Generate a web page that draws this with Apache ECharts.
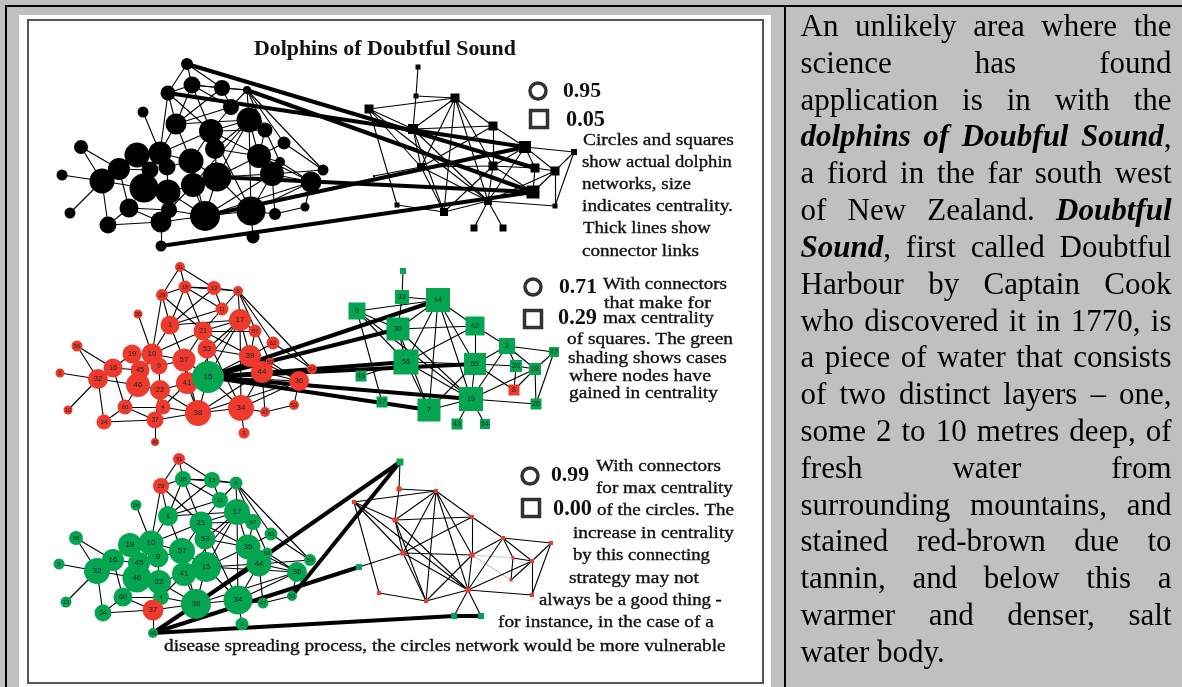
<!DOCTYPE html>
<html><head><meta charset="utf-8">
<style>html,body{margin:0;padding:0;background:#c0c0c0}#c{width:1182px;height:687px}</style>
<script src="https://cdn.jsdelivr.net/npm/echarts@6/dist/echarts.min.js"></script>
</head><body><div id="c"></div>
<script>
// ---- data ----
const circleLabels=['31','18','13','8','29','11','26','1','17','21','67','62','56','19','10','53','57','39','59','16','45','9','54','5','32','46','22','41','15','44','36','60','4','38','34','47','52','37','24','12','3','40'];
const circleX1=[187,192,222,247,168,231,143,176,249,211,265,284,81,137,160,215,191,259,280,119,150,167,323,62,102,144,168,193,217,272,311,129,169,205,251,275,305,161,108,70,253,161];
const circleY1=[64,85,88,90,93,107,112,124,120,131,130,143,147,155,153,149,161,156,162,169,170,167,170,175,181,188,192,185,177,174,182,208,210,216,211,214,207,222,225,213,237,246];
const circleD1=[12,17,16,8,15,16,11,21,25,24,15,13,14,25,23,20,25,24,10,22,17,17,11,11,25,29,25,24,29,24,21,19,16,30,29,12,9,21,17,11,13,11];
const circleX2=[180,185,214,238,162,222,138,170,240,203,255,273,77,132,152,207,184,250,270,113,140,159,312,60,98,138,160,187,208,262,299,125,163,198,241,265,294,155,104,68,244,155];
const circleY2=[267,287,288,291,295,309,314,325,320,331,331,343,346,354,354,349,360,356,362,368,370,366,369,373,379,385,390,383,377,372,381,407,407,413,408,412,405,420,422,410,433,442];
const circleD2=[10,13,14,10,12,13,9,19,22,19,13,13,11,19,21,19,23,22,8,19,19,17,10,9,20,24,20,22,32,22,20,15,15,26,26,10,10,17,15,9,11,8];
const circleX3=[179,183,212,236,161,220,136,168,237,201,253,271,76,130,151,205,182,248,267,113,139,158,310,59,97,137,159,184,206,259,297,123,161,196,238,263,292,153,103,66,242,153];
const circleY3=[459,479,480,483,486,500,505,516,512,523,522,534,538,545,543,539,551,547,553,560,563,557,560,564,571,578,582,574,567,564,572,597,597,604,600,603,596,610,613,602,624,633];
const circleD3=[12,16,16,13,16,16,11,20,26,23,16,13,14,24,25,21,26,25,11,22,22,21,12,11,26,29,24,24,30,25,20,19,16,30,29,11,10,21,17,11,13,10];
const squareLabels=['58','33','14','6','42','30','2','47','20','28','55','56','49','8','17','19','26','7','43','54'];
const squareX1=[418,416,455,369,493,413,525,574,535,555,493,421,374,533,397,488,555,444,474,503];
const squareY1=[67,96,98,109,126,129,147,152,168,171,166,167,176,192,205,201,206,212,228,228];
const squareS1=[5,5,9,9,9,10,12,6,9,9,9,8,2,13,5,8,5,8,7,7];
const squareX2=[403,402,438,357,475,398,507,554,516,535,475,406,361,514,382,471,536,429,457,485];
const squareY2=[271,297,300,311,326,329,346,352,366,369,364,362,376,390,402,399,404,410,424,424];
const squareS2=[6,14,24,17,19,23,16,10,12,12,22,25,11,11,11,24,11,23,11,10];
const squareX3=[400,399,436,354,472,395,503,551,513,532,472,403,359,511,379,468,532,426,454,481];
const squareY3=[462,489,491,502,517,520,538,543,558,561,555,553,567,580,593,590,595,601,616,616];
const squareS3=[7,5,4,4,4,5,4,4,3,4,5,5,6,3,4,5,4,4,6,6];
const circleEdges=[['31','18'],['31','29'],['31','13'],['18','29'],['18','13'],['18','8'],['18','1'],['18','11'],['18','21'],['13','8'],['13','11'],['13','1'],['29','21'],['29','10'],['29','1'],['8','11'],['8','17'],['8','62'],['8','54'],['11','1'],['11','21'],['26','10'],['1','10'],['1','17'],['1','57'],['17','21'],['17','67'],['17','39'],['17','15'],['17','53'],['17','41'],['17','34'],['21','67'],['21','53'],['21','10'],['21','57'],['21','34'],['21','36'],['67','39'],['62','39'],['62','54'],['56','16'],['56','32'],['19','16'],['19','10'],['19','45'],['5','32'],['12','32'],['32','16'],['32','46'],['32','24'],['16','60'],['16','45'],['10','46'],['10','9'],['10','57'],['9','57'],['9','22'],['45','46'],['46','22'],['46','60'],['57','15'],['57','41'],['57','38'],['53','15'],['53','39'],['41','22'],['41','15'],['41','4'],['41','38'],['15','38'],['15','34'],['15','44'],['15','36'],['15','39'],['22','4'],['22','37'],['22','38'],['60','4'],['60','37'],['60','24'],['24','37'],['37','40'],['37','38'],['4','38'],['38','34'],['38','44'],['38','36'],['34','44'],['34','36'],['34','47'],['34','3'],['39','44'],['44','36'],['44','54'],['44','47'],['36','52'],['47','52'],['59','36'],['59','39'],['8','59']];
const squareEdges=[['58','33'],['33','30'],['33','14'],['6','14'],['14','30'],['14','56'],['14','7'],['14','19'],['14','55'],['14','42'],['6','30'],['6','56'],['6','17'],['6','19'],['30','42'],['30','56'],['30','7'],['30','19'],['42','55'],['42','2'],['42','56'],['56','55'],['56','19'],['56','7'],['55','7'],['55','2'],['55','19'],['55','20'],['55','8'],['20','8'],['2','19'],['2','47'],['2','20'],['2','28'],['19','28'],['19','26'],['19','7'],['19','43'],['19','54'],['28','8'],['28','26'],['47','26'],['47','28'],['28','20'],['17','7'],['49','56']];
const greyEdges3=['55-20','55-8'];
const connectors1=[['c31','s20'],['c8','s8'],['c29','s2'],['c38','s2'],['c15','s8'],['c40','s8']];
const connectors2=[['c15','s14'],['c15','s30'],['c15','s56'],['c15','s55'],['c15','s19'],['c15','s7']];
const connectors3=[['c38','s58'],['c52','s58'],['c40','s49'],['c40','c38'],['c40','s43'],['s43','s54']];
const greenCircles2=['15'];
const redCircles3=['31','29','37'];
const redSquares2=['8'];
const greenSquares3=['58','49','43','54'];
const legendX=[538,539,533,533,530,531];
const legendY=[91,119,287,319,476,508];
const legendSize=[16,17,16,17,16,17];
const title='Dolphins of Doubtful Sound';
const legendValues=[['0.95',563,91,38],['0.05',566,120,39],['0.71',559,287,38],['0.29',558,318,39],['0.99',551,475,38],['0.00',553,509,39]];
const notes=[
['Circles and squares',583,141,151],['show actual dolphin',582,163,150],['networks, size',582,185,109],['indicates centrality.',582,207,151],['Thick lines show',583,229,128],['connector links',582,252,117],
['With connectors',603,285,124],['that make for',604,303,107],['max centrality',603,319,111],['of squares. The green',567,340,166],['shading shows cases',568,359,159],['where nodes have',569,376,142],['gained in centrality',569,394,149],
['With connectors',596,467,125],['for max centrality',596,489,137],['of the circles. The',597,511,137],['increase in centrality',573,534,161],['by this connecting',573,556,137],['strategy may not',569,578,130],['always be a good thing -',539,601,183],['for instance, in the case of a',498,623,216],['disease spreading process, the circles network would be more vulnerable',164,647,562]];
const bodyLines=['An unlikely area where the','science has found','application is in with the','*dolphins* *of* *Doubful* *Sound*,','a fiord in the far south west','of New Zealand. *Doubtful*','*Sound*, first called Doubtful','Harbour by Captain Cook','who discovered it in 1770, is','a piece of water that consists','of two distinct layers – one,','some 2 to 10 metres deep, of','fresh water from','surrounding mountains, and','stained red-brown due to','tannin, and below this a','warmer and denser, salt','water body.'];

// ---- drawing ----
const RED='#ee3a2c',GREEN='#04a550',BLACK='#000';
const SERIF='"Liberation Serif","Times New Roman",serif';
const ctx=document.createElement('canvas').getContext('2d');
function widthOf(t,font){ctx.font=font;return ctx.measureText(t).width;}
function fitSize(t,w,weight){return +(w/widthOf(t,weight+' 100px '+SERIF)*100).toFixed(2);}

function panel(cx,cy,cd,sx,sy,ss,cColor,sColor,conn,connW,labelled,thin,greys){
  const data=[];
  circleLabels.forEach((l,i)=>data.push({name:'c'+l,value:[cx[i],cy[i]],symbol:'circle',symbolSize:cd[i],itemStyle:{color:cColor(l)},
    label:{show:labelled,formatter:l,fontSize:Math.min(8,Math.max(6,cd[i]/2.6)),color:'#222',position:'inside'}}));
  squareLabels.forEach((l,i)=>data.push({name:'s'+l,value:[sx[i],sy[i]],symbol:'rect',symbolSize:ss[i],itemStyle:{color:sColor(l)},
    label:{show:labelled&&ss[i]>=10,formatter:l,fontSize:7,color:'#222',position:'inside'}}));
  const links=[];
  circleEdges.forEach(e=>links.push({source:'c'+e[0],target:'c'+e[1],lineStyle:{width:thin,color:BLACK}}));
  squareEdges.forEach(e=>links.push({source:'s'+e[0],target:'s'+e[1],lineStyle:{width:thin,color:greys.includes(e.join('-'))?'#c4c8d0':BLACK}}));
  conn.forEach(e=>links.push({source:e[0],target:e[1],lineStyle:{width:connW,color:BLACK}}));
  return {type:'graph',coordinateSystem:'cartesian2d',layout:'none',silent:true,animation:false,z:3,data,links,lineStyle:{opacity:1,curveness:0},emphasis:{disabled:true}};
}
const always=c=>()=>c;
const series=[
 panel(circleX1,circleY1,circleD1,squareX1,squareY1,squareS1,always(BLACK),always(BLACK),connectors1,4,false,1.1,[]),
 panel(circleX2,circleY2,circleD2,squareX2,squareY2,squareS2,l=>greenCircles2.includes(l)?GREEN:RED,l=>redSquares2.includes(l)?RED:GREEN,connectors2,4,true,1.1,[]),
 panel(circleX3,circleY3,circleD3,squareX3,squareY3,squareS3,l=>redCircles3.includes(l)?RED:GREEN,l=>greenSquares3.includes(l)?GREEN:RED,connectors3,4,true,1.1,greyEdges3),
 {type:'scatter',silent:true,animation:false,z:4,symbolSize:(v,p)=>legendSize[p.dataIndex],
  data:legendX.map((x,i)=>({value:[x,legendY[i]],symbol:i%2?'rect':'circle'})),
  itemStyle:{color:'#fff',borderColor:BLACK,borderWidth:3.5}}
];

const g=[];
function rect(x,y,w,h,fill,stroke,lw){g.push({type:'rect',z:0,silent:true,shape:{x,y,width:w,height:h},style:{fill:fill||'none',stroke:stroke||'none',lineWidth:lw||0}});}
rect(19,15,752,672,'#fff');
rect(28,20,735,663,'#fff','#555',2);
rect(6,6,1190,700,'none',BLACK,2);
rect(784,6,2,681,BLACK);
function text(t,x,y,size,weight){g.push({type:'text',z:10,silent:true,style:{text:t,x,y,fill:'#111',font:'normal '+weight+' '+size+'px '+SERIF,textAlign:'left',textVerticalAlign:'middle'}});}
text(title,254,49,fitSize(title,262,'bold'),'bold');
legendValues.forEach(v=>text(v[0],v[1],v[2],fitSize(v[0],v[3],'bold'),'bold'));
// notes: the letters in the reference are wider than the font's, so they are stretched sideways to their measured width
const NOTE_SQUEEZE=0.88;
notes.forEach(n=>g.push({type:'text',z:10,silent:true,x:n[1],y:n[2],scaleX:1/NOTE_SQUEEZE,
  style:{text:n[0],x:0,y:0,fill:'#111',stroke:'#111',lineWidth:0.35,font:'normal normal '+(fitSize(n[0],n[3],'normal')*NOTE_SQUEEZE)+'px '+SERIF,textAlign:'left',textVerticalAlign:'middle'}}));

// justified body text: each line stretched between the column edges
const BODY=31,LEFT=800.5,RIGHT=1171.5,TOP=28,PITCH=36.8;
function pieces(word){return word.split(/(\*[^*]+\*)/).filter(Boolean).map(p=>p[0]==='*'?{t:p.slice(1,-1),f:'italic bold '}:{t:p,f:'normal normal '});}
function wordWidth(word){return pieces(word).reduce((s,p)=>s+widthOf(p.t,p.f+BODY+'px '+SERIF),0);}
bodyLines.forEach((line,i)=>{
  const words=line.split(' ');
  const total=words.reduce((s,w)=>s+wordWidth(w),0);
  const last=i===bodyLines.length-1;
  const gap=last?widthOf(' ','normal '+BODY+'px '+SERIF):(RIGHT-LEFT-total)/(words.length-1);
  let x=LEFT;
  words.forEach(w=>{
    pieces(w).forEach(p=>{
      g.push({type:'text',z:10,silent:true,style:{text:p.t,x,y:TOP+i*PITCH,fill:'#000',font:p.f+BODY+'px '+SERIF,textAlign:'left',textVerticalAlign:'middle'}});
      x+=widthOf(p.t,p.f+BODY+'px '+SERIF);
    });
    x+=gap;
  });
});

const chart=echarts.init(document.getElementById('c'),null,{renderer:'canvas'});
chart.setOption({
  backgroundColor:'#c0c0c0',animation:false,
  grid:{left:0,right:0,top:0,bottom:0},
  xAxis:{type:'value',min:0,max:1182,show:false},
  yAxis:{type:'value',min:0,max:687,inverse:true,show:false},
  tooltip:{show:false},
  series,graphic:g
});
</script></body></html>
